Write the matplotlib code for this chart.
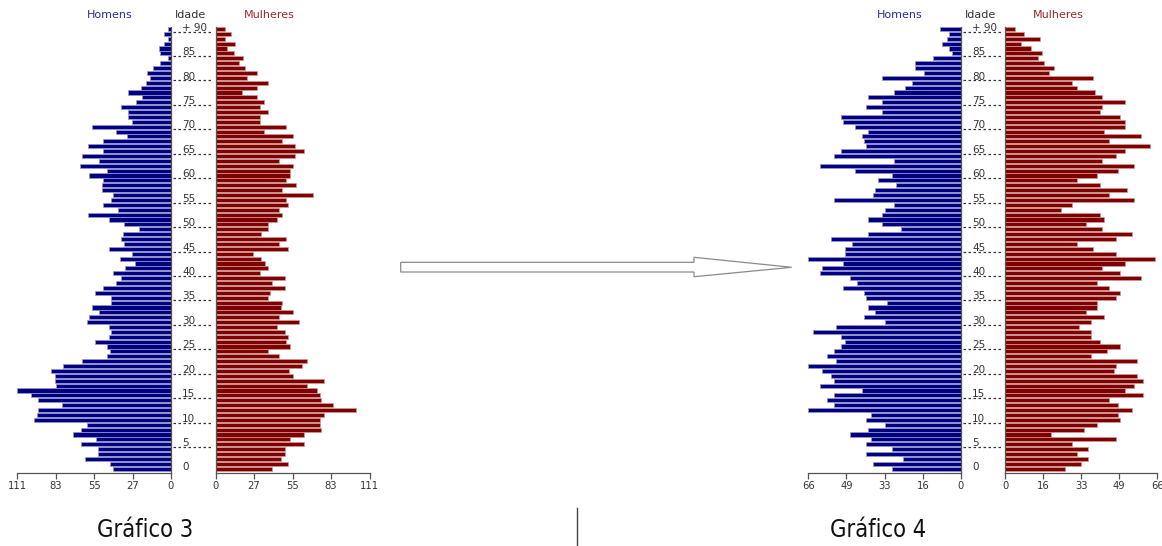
import matplotlib
matplotlib.use("Agg")
import matplotlib.pyplot as plt
import numpy as np
from matplotlib.patches import Polygon
from matplotlib.lines import Line2D
from matplotlib import font_manager
from matplotlib.font_manager import FontProperties

# Ages 0..90 (last group is "+90")
ages = list(range(91))

# Gráfico 3 — population by single year of age
g3_homens = [42, 44, 62, 53, 53, 65, 54, 71, 65, 61,
             99, 97, 96, 79, 96, 101, 111, 83, 84, 84,
             87, 78, 64, 46, 44, 46, 55, 45, 43, 45,
             61, 59, 52, 57, 43, 43, 55, 49, 40, 36,
             42, 33, 26, 37, 28, 45, 34, 36, 35, 23,
             34, 45, 60, 38, 49, 43, 42, 50, 50, 49,
             59, 46, 66, 52, 64, 49, 60, 49, 32, 40,
             57, 28, 31, 31, 36, 25, 21, 31, 22, 18,
             15, 17, 13, 8, 2, 8, 9, 5, 2, 5,
             2]
g3_mulheres = [41, 52, 47, 50, 50, 64, 54, 64, 76, 75,
               75, 78, 101, 85, 76, 75, 73, 66, 78, 56,
               53, 62, 66, 46, 38, 54, 51, 52, 50, 44,
               60, 46, 56, 47, 48, 38, 39, 50, 41, 50,
               32, 38, 36, 33, 27, 52, 46, 51, 33, 38,
               38, 44, 48, 46, 52, 51, 70, 48, 58, 51,
               54, 54, 56, 46, 57, 64, 57, 48, 56, 35,
               51, 32, 32, 38, 32, 35, 30, 19, 30, 38,
               23, 30, 21, 17, 20, 13, 8, 14, 7, 11,
               7]

# Gráfico 4
g4_homens = [30, 38, 25, 41, 30, 41, 39, 48, 40, 33,
             41, 39, 66, 55, 58, 55, 43, 61, 55, 56,
             60, 66, 54, 58, 55, 52, 50, 52, 64, 54,
             33, 42, 37, 40, 32, 41, 42, 51, 45, 48,
             61, 60, 51, 66, 50, 50, 47, 56, 40, 26,
             34, 40, 34, 33, 29, 55, 38, 37, 28, 36,
             30, 46, 61, 29, 55, 52, 41, 42, 43, 40,
             46, 51, 52, 34, 41, 34, 40, 29, 24, 21,
             34, 16, 20, 20, 12, 4, 5, 8, 6, 5,
             9]
g4_mulheres = [26, 33, 36, 31, 36, 29, 48, 20, 34, 40,
               50, 49, 55, 49, 45, 60, 52, 56, 60, 57,
               47, 48, 57, 37, 44, 50, 41, 37, 37, 32,
               37, 43, 35, 40, 40, 48, 50, 45, 40, 59,
               50, 42, 52, 65, 48, 38, 31, 48, 55, 42,
               35, 43, 41, 24, 29, 56, 45, 53, 41, 31,
               40, 49, 56, 42, 48, 52, 63, 45, 59, 43,
               52, 52, 50, 41, 42, 52, 42, 39, 31, 29,
               38, 19, 21, 17, 14, 16, 11, 7, 15, 8,
               4]

g3_max = 111
g3_ticklabels = ["0", "27", "55", "83", "111"]
g4_max = 66
g4_ticklabels = ["0", "16", "33", "49", "66"]

age_labels = ["0", "5", "10", "15", "20", "25", "30", "35", "40", "45",
              "50", "55", "60", "65", "70", "75", "80", "85", "+ 90"]
age_label_pos = list(range(0, 91, 5))

W, H = 1162, 546
fig = plt.figure(figsize=(W / 100, H / 100), dpi=100)
fig.patch.set_facecolor("white")


def find_narrow_font():
    """Pick a condensed/narrow regular face if one is installed."""
    best = None
    for f in font_manager.fontManager.ttflist:
        fn = f.fname.lower()
        narrowish = ("condensed" in fn or "narrow" in fn or
                     str(f.stretch) in ("condensed", "semi-condensed", "extra-condensed"))
        if not narrowish:
            continue
        if "bold" in fn or "italic" in fn or "oblique" in fn or "light" in fn:
            continue
        if best is None or "liberation" in fn:
            best = f.fname
    return best


narrow_path = find_narrow_font()


def narrow_prop(size):
    if narrow_path:
        return FontProperties(fname=narrow_path, size=size)
    return FontProperties(family="DejaVu Sans", size=size)


BLUE = "#000080"
RED = "#800000"
AX_COL = "#555555"
Y0, Y1 = -0.82, 90.46
AX_TOP, AX_BOT = 26.7, 472.7


def px_axes(left, width):
    return fig.add_axes([left / W, (H - AX_BOT) / H, width / W, (AX_BOT - AX_TOP) / H])


def style(ax, side, vmax, labels):
    ax.set_ylim(Y0, Y1)
    ticks = np.linspace(0, vmax, 5)
    ax.set_xticks(ticks)
    ax.set_xticklabels(labels, color="#333333")
    for t in ax.get_xticklabels():
        t.set_fontproperties(narrow_prop(8))
    ax.set_yticks([])
    for s in ax.spines.values():
        s.set_visible(False)
    ax.spines["bottom"].set_visible(True)
    ax.spines["bottom"].set_color(AX_COL)
    ax.spines["bottom"].set_linewidth(0.9)
    ax.spines[side].set_visible(True)
    ax.spines[side].set_color(AX_COL)
    ax.spines[side].set_linewidth(0.9)
    ax.tick_params(axis="x", direction="out", length=4, width=0.9, color=AX_COL, pad=2)
    ax.set_facecolor("none")


def pyramid(men, women, vmax, labels, men_left, men_width, women_left, women_width):
    axm = px_axes(men_left, men_width)
    axm.barh(ages, men, height=0.84, color=BLUE, edgecolor="#9a9ad0", linewidth=0.5)
    axm.set_xlim(vmax, 0)
    style(axm, "right", vmax, labels)

    axw = px_axes(women_left, women_width)
    axw.barh(ages, women, height=0.84, color=RED, edgecolor="#d09a9a", linewidth=0.5)
    axw.set_xlim(0, vmax)
    style(axw, "left", vmax, labels)

    # central age column
    mid_l = men_left + men_width
    mid_w = women_left - mid_l
    axc = px_axes(mid_l, mid_w)
    axc.set_xlim(0, 1)
    axc.set_ylim(Y0, Y1)
    axc.axis("off")
    for a, lab in zip(age_label_pos, age_labels):
        axc.text((182 - 171) / 44.5, a + 0.25, lab, ha="left", va="center",
                 fontsize=7.5, color="#333333")
        if a > 0:
            axc.plot([0.05, 0.95], [a - 0.55, a - 0.55], ls=(0, (2, 2)),
                     color="#333333", lw=0.9)

    # headers
    fig.text((men_left + men_width * 0.6) / W, 1 - 15 / H, "Homens", ha="center",
             va="center", fontsize=8, color="#2b2b9b")
    fig.text((mid_l + mid_w * 0.43) / W, 1 - 15 / H, "Idade", ha="center",
             va="center", fontsize=8, color="#333333")
    fig.text((women_left + women_width * 0.35) / W, 1 - 15 / H, "Mulheres", ha="center",
             va="center", fontsize=8, color="#9b2b2b")


pyramid(g3_homens, g3_mulheres, g3_max, g3_ticklabels, 17.3, 153.7, 215.5, 154)
pyramid(g4_homens, g4_mulheres, g4_max, g4_ticklabels, 808.3, 152.7, 1005.3, 152)

# titles
title_size = 17 if narrow_path else 14
for x, txt in ((145, "Gráfico 3"), (878, "Gráfico 4")):
    fig.text(x / W, 1 - 530 / H, txt, ha="center", va="center",
             color="#111111", fontproperties=narrow_prop(title_size))

# separator
fig.add_artist(Line2D([577 / W, 577 / W], [0, 1 - 508 / H], color="#444444", lw=1))

# arrow between the two pyramids
arrow_px = [(400.7, 262.3), (694, 262.3), (694, 257.3), (791.7, 267.3),
            (694, 276.7), (694, 272), (400.7, 272)]
arrow = Polygon([(x / W, 1 - y / H) for x, y in arrow_px], closed=True,
                facecolor="white", edgecolor="#8a8a8a", lw=0.9,
                transform=fig.transFigure)
fig.add_artist(arrow)

fig.savefig("out.png", dpi=100)
